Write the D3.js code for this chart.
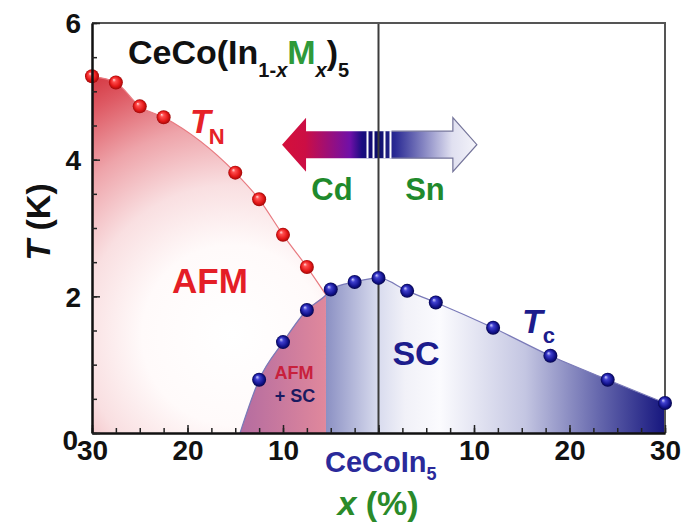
<!DOCTYPE html>
<html>
<head>
<meta charset="utf-8">
<script src="https://cdn.jsdelivr.net/npm/d3@7"></script>
<style>
body { margin: 0; background: #fff; }
text { font-family: Arial, "Liberation Sans", sans-serif; font-weight: bold; }
</style>
</head>
<body>
<svg width="682" height="524"></svg>
<script>
// Cd side is drawn as negative x, Sn side as positive x
var tnX = [-30, -27.5, -25, -22.5, -15, -12.5, -10, -7.5];
var tnT = [5.22, 5.13, 4.78, 4.62, 3.81, 3.42, 2.90, 2.43];
var tcCdX = [-12.5, -10, -7.5, -5, -2.5];
var tcCdT = [0.78, 1.33, 1.80, 2.10, 2.21];
var tcPureX = [0];
var tcPureT = [2.27];
var tcSnX = [3, 6, 12, 18, 24, 30];
var tcSnT = [2.08, 1.91, 1.54, 1.13, 0.78, 0.44];
// phase boundary end points
var tcOnset = [-14.5, 0];
var junction = [-5.5, 2.02];
var xMajor = [-30, -20, -10, 0, 10, 20, 30];
var yMajor = [0, 2, 4, 6];

var svg = d3.select("svg"),
    width = +svg.attr("width"),
    height = +svg.attr("height");

var x = d3.scaleLinear().domain([-30, 30]).range([92, 665]);
var y = d3.scaleLinear().domain([0, 6]).range([433, 23]);

var defs = svg.append("defs");

function grad(id, x1, x2, stops) {
    var g = defs.append("linearGradient").attr("id", id)
        .attr("gradientUnits", "userSpaceOnUse")
        .attr("x1", x1).attr("x2", x2).attr("y1", 0).attr("y2", 0);
    stops.forEach(function(s) {
        g.append("stop").attr("offset", s[0]).attr("stop-color", s[1]);
    });
}

var afmGrad = defs.append("radialGradient").attr("id", "afmFill")
    .attr("gradientUnits", "userSpaceOnUse")
    .attr("cx", 232).attr("cy", 335).attr("r", 300);
[[0, "#ffffff"], [0.3, "#fffafa"], [0.5, "#f9dfe1"], [0.7, "#eea4aa"], [0.88, "#de5a64"], [1, "#d2303a"]].forEach(function(s) {
    afmGrad.append("stop").attr("offset", s[0]).attr("stop-color", s[1]);
});

grad("mixFill", x(tcOnset[0]), x(junction[0]), [[0, "#b46ca0"], [1, "#e0889c"]]);

var scL = x(junction[0]), scR = x(30);
function off(px, a, b) { return (px - a) / (b - a); }
grad("scFill", scL, scR, [
    [0, "#8b90c3"], [off(378, scL, scR), "#d8dbee"], [off(405, scL, scR), "#f1f1f8"],
    [off(440, scL, scR), "#fbfbfe"], [off(525, scL, scR), "#c4c6e2"],
    [off(600, scL, scR), "#6466ac"], [1, "#16167e"]
]);

function ball(id, c) {
    var g = defs.append("radialGradient").attr("id", id)
        .attr("cx", 0.5).attr("cy", 0.5).attr("r", 0.5).attr("fx", 0.35).attr("fy", 0.3);
    c.forEach(function(s) { g.append("stop").attr("offset", s[0]).attr("stop-color", s[1]); });
}
ball("ballRed", [[0, "#ffe0e0"], [0.25, "#ff5050"], [0.7, "#e41818"], [1, "#a00808"]]);
ball("ballBlue", [[0, "#d0d0ff"], [0.3, "#4040d0"], [0.75, "#12128c"], [1, "#05054a"]]);

var tnPts = tnX.map(function(v, i) { return [v, tnT[i]]; });
var tcPts = [tcOnset]
    .concat(tcCdX.map(function(v, i) { return [v, tcCdT[i]]; }))
    .concat([junction])
    .concat(tcPureX.map(function(v, i) { return [v, tcPureT[i]]; }))
    .concat(tcSnX.map(function(v, i) { return [v, tcSnT[i]]; }))
    .sort(function(a, b) { return a[0] - b[0]; });

var area = d3.area()
    .x(function(d) { return x(d[0]); })
    .y0(y(0))
    .y1(function(d) { return y(d[1]); })
    .curve(d3.curveMonotoneX);
var line = d3.line()
    .x(function(d) { return x(d[0]); })
    .y(function(d) { return y(d[1]); })
    .curve(d3.curveMonotoneX);

var tnBound = tnPts.concat([junction]);
svg.append("path").attr("d", area(tnBound)).attr("fill", "url(#afmFill)");
svg.append("path")
    .attr("d", area(tcPts.filter(function(d) { return d[0] <= junction[0]; })))
    .attr("fill", "url(#mixFill)");
svg.append("path")
    .attr("d", area(tcPts.filter(function(d) { return d[0] >= junction[0]; })))
    .attr("fill", "url(#scFill)");

svg.append("path").attr("d", line(tnBound))
    .attr("fill", "none").attr("stroke", "#e87a80").attr("stroke-width", 1.2);
svg.append("path").attr("d", line(tcPts))
    .attr("fill", "none").attr("stroke", "#7a7ab8").attr("stroke-width", 1.2);

// doping arrow
var ax0 = x(-10.1), ax1 = x(10.3), ay = y(4.22), xc = x(0);
grad("arrowFill", ax0, ax1, [
    [0, "#d4103a"], [off(305, ax0, ax1), "#cc0e44"], [off(350, ax0, ax1), "#7010a8"],
    [off(362, ax0, ax1), "#1a0c80"], [off(378, ax0, ax1), "#0c0c6a"],
    [off(395, ax0, ax1), "#2a2a94"], [off(452, ax0, ax1), "#e0e0f0"], [1, "#f4f4fa"]
]);
var hl = 24, hh = 27, sh = 13.5;
svg.append("polygon")
    .attr("points", [[ax0, ay], [ax0 + hl, ay - hh], [ax0 + hl, ay - sh], [ax1 - hl, ay - sh],
        [ax1 - hl, ay - hh], [ax1, ay], [ax1 - hl, ay + hh], [ax1 - hl, ay + sh],
        [ax0 + hl, ay + sh], [ax0 + hl, ay + hh]].join(" "))
    .attr("fill", "url(#arrowFill)");
svg.append("polyline")
    .attr("points", [[xc + 13, ay - sh], [ax1 - hl, ay - sh], [ax1 - hl, ay - hh], [ax1, ay],
        [ax1 - hl, ay + hh], [ax1 - hl, ay + sh], [xc + 13, ay + sh]].join(" "))
    .attr("fill", "none").attr("stroke", "#74749a").attr("stroke-width", 1.2);
svg.selectAll(".stripe").data([-11, -5, 6, 12]).enter().append("line")
    .attr("x1", function(d) { return xc + d; }).attr("x2", function(d) { return xc + d; })
    .attr("y1", ay - sh).attr("y2", ay + sh)
    .attr("stroke", "#fff").attr("stroke-width", 2);

// CeCoIn5 line and frame
svg.append("line").attr("x1", xc).attr("x2", xc).attr("y1", y(6)).attr("y2", y(0))
    .attr("stroke", "#3c3c3c").attr("stroke-width", 2);
svg.append("path")
    .attr("d", "M" + x(-30) + "," + y(6) + "H" + x(30) + "V" + y(0))
    .attr("fill", "none").attr("stroke", "#555").attr("stroke-width", 2);

svg.append("g").selectAll("circle").data(tnPts).enter().append("circle")
    .attr("cx", function(d) { return x(d[0]); })
    .attr("cy", function(d) { return y(d[1]); })
    .attr("r", 7).attr("fill", "url(#ballRed)");
svg.append("g").selectAll("circle").data(tcPts.filter(function(d) {
        return d !== tcOnset && d !== junction;
    })).enter().append("circle")
    .attr("cx", function(d) { return x(d[0]); })
    .attr("cy", function(d) { return y(d[1]); })
    .attr("r", 7).attr("fill", "url(#ballBlue)");

// axes
var xAxis = svg.append("g").attr("transform", "translate(0," + y(0) + ")")
    .call(d3.axisBottom(x).tickValues(xMajor).tickSize(-8).tickSizeOuter(0)
        .tickFormat(function(d) { return d === 0 ? "" : Math.abs(d); }));
svg.append("g").attr("transform", "translate(0," + y(0) + ")")
    .call(d3.axisBottom(x).tickValues(d3.range(-30, 30.1, 2.5)).tickSize(-5).tickSizeOuter(0).tickFormat(""));
var yAxis = svg.append("g").attr("transform", "translate(" + x(-30) + ",0)")
    .call(d3.axisLeft(y).tickValues(yMajor).tickSize(-8).tickSizeOuter(0).tickFormat(d3.format("d")));
svg.append("g").attr("transform", "translate(" + x(-30) + ",0)")
    .call(d3.axisLeft(y).tickValues(d3.range(0, 6.01, 0.5)).tickSize(-5).tickSizeOuter(0).tickFormat(""));
svg.selectAll(".domain").attr("stroke", "#111").attr("stroke-width", 2);
svg.selectAll(".tick line").attr("stroke", "#222").attr("stroke-width", 1.5);
xAxis.selectAll("text").attr("font-size", 28).attr("fill", "#111").attr("y", 7).attr("dy", "0.71em")
    .style("font-family", "Arial, 'Liberation Sans', sans-serif").style("font-weight", "bold");
yAxis.selectAll("text").attr("font-size", 28).attr("fill", "#111")
    .style("font-family", "Arial, 'Liberation Sans', sans-serif").style("font-weight", "bold")
    .attr("dy", function(d) { return d === 0 ? "0.6em" : "0.35em"; })
    .attr("x", function(d) { return d === 0 ? -14 : -11; });

// labels
function label(px, py, size, color) {
    return svg.append("text").attr("x", px).attr("y", py).attr("font-size", size).attr("fill", color);
}

var title = label(128, 64, 34, "#111");
title.append("tspan").text("CeCo(In");
title.append("tspan").attr("dy", 13).attr("font-size", 20).text("1-");
title.append("tspan").attr("font-size", 20).attr("font-style", "italic").text("x");
title.append("tspan").attr("dy", -13).attr("fill", "#2f9a3a").text("M");
title.append("tspan").attr("dy", 13).attr("font-size", 20).attr("font-style", "italic").text("x");
title.append("tspan").attr("dy", -13).text(")");
title.append("tspan").attr("dy", 13).attr("font-size", 20).text("5");

var tn = label(190, 133, 34, "#e62228");
tn.append("tspan").attr("font-style", "italic").text("T");
tn.append("tspan").attr("dy", 11).attr("dx", -2).attr("font-size", 22).text("N");

var tc = label(522, 333, 34, "#1c1c8c");
tc.append("tspan").attr("font-style", "italic").text("T");
tc.append("tspan").attr("dy", 10).attr("dx", 0).attr("font-size", 22).text("c");

label(332, 200, 31, "#1f8a2c").attr("text-anchor", "middle").text("Cd");
label(425, 200, 31, "#1f8a2c").attr("text-anchor", "middle").text("Sn");
label(210, 293, 35, "#e41e26").attr("text-anchor", "middle").text("AFM");
label(294, 379, 18, "#c8203c").attr("text-anchor", "middle").text("AFM");
label(295, 402, 18, "#1a1a60").attr("text-anchor", "middle").text("+ SC");
label(416, 365, 34, "#1c1c8c").attr("text-anchor", "middle").text("SC");

var pure = label(325, 472, 29, "#2a2a9a");
pure.append("tspan").text("CeCoIn");
pure.append("tspan").attr("dy", 8).attr("font-size", 18).text("5");

var xl = label(378, 515, 34, "#2a8a2a").attr("text-anchor", "middle");
xl.append("tspan").attr("font-style", "italic").text("x");
xl.append("tspan").text(" (%)");

var yl = label(0, 0, 34, "#111").attr("text-anchor", "middle")
    .attr("transform", "translate(50,222) rotate(-90)");
yl.append("tspan").attr("font-style", "italic").text("T");
yl.append("tspan").text(" (K)");
</script>
</body>
</html>
